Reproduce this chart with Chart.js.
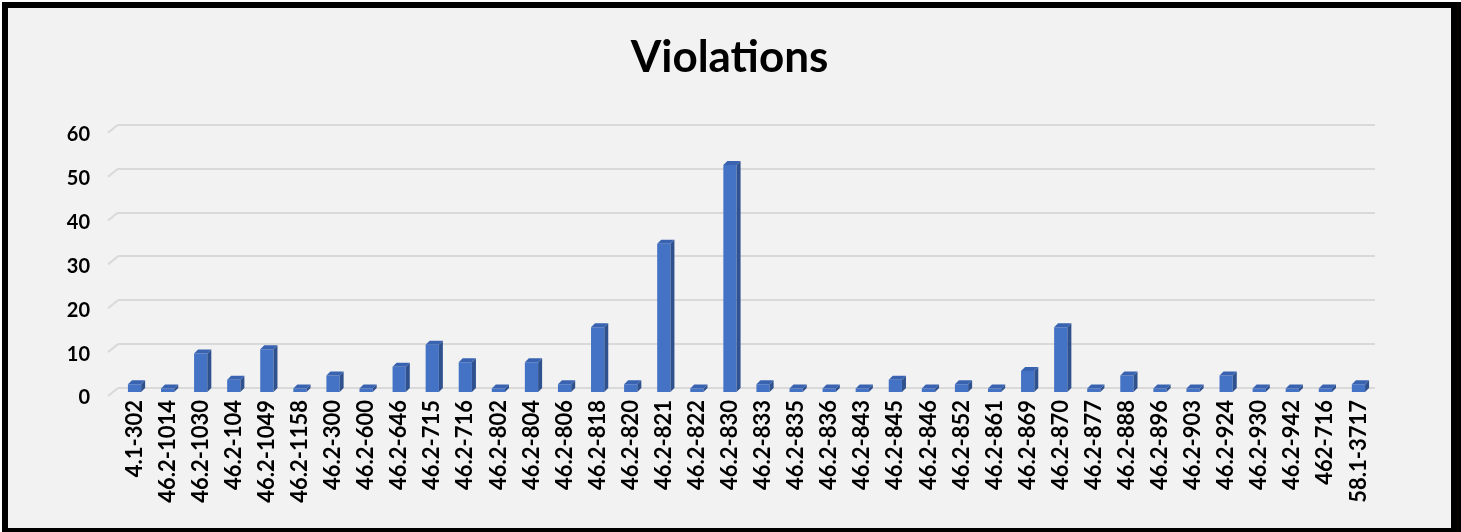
<!DOCTYPE html>
<html>
<head>
<meta charset="utf-8">
<script src="https://cdn.jsdelivr.net/npm/chart.js@4/dist/chart.umd.min.js"></script>
<style>
    body { margin: 0; background: #fff; }
    #box {
        position: absolute; left: 2px; top: 2px;
        width: 1443px; height: 520px;
        border-style: solid; border-color: #000;
        border-width: 6px 10px 4px 6px;
        background: #f2f2f2;
    }
</style>
</head>
<body>
<div id="box"><canvas id="violationsChart" width="1443" height="520"></canvas></div>
<script>
var labels = ['4.1-302', '46.2-1014', '46.2-1030', '46.2-104', '46.2-1049', '46.2-1158', '46.2-300',
    '46.2-600', '46.2-646', '46.2-715', '46.2-716', '46.2-802', '46.2-804', '46.2-806', '46.2-818',
    '46.2-820', '46.2-821', '46.2-822', '46.2-830', '46.2-833', '46.2-835', '46.2-836', '46.2-843',
    '46.2-845', '46.2-846', '46.2-852', '46.2-861', '46.2-869', '46.2-870', '46.2-877', '46.2-888',
    '46.2-896', '46.2-903', '46.2-924', '46.2-930', '46.2-942', '462-716', '58.1-3717'];
var violations = [2, 1, 9, 3, 10, 1, 4, 1, 6, 11, 7, 1, 7, 2, 15, 2, 34, 1, 52, 2, 1, 1, 1,
    3, 1, 2, 1, 5, 15, 1, 4, 1, 1, 4, 1, 1, 1, 2];
var yTicks = [0, 10, 20, 30, 40, 50, 60];

Chart.defaults.font.family = 'Lato';
Chart.defaults.color = '#000';

// fake 3d look: shift the bars forward, add side/top faces and wall edges
var bar3d = {
    id: 'bar3d',
    beforeDatasetsDraw: function (chart) {
        var ctx = chart.ctx;
        var area = chart.chartArea;
        ctx.save();
        ctx.strokeStyle = '#d9d9d9';
        ctx.lineWidth = 2;
        yTicks.forEach(function (v) {
            var y = chart.scales.y.getPixelForValue(v);
            ctx.beginPath();
            ctx.moveTo(area.left - 10, y + 8);
            ctx.lineTo(area.left, y);
            ctx.stroke();
        });
        ctx.restore();
        ctx.save();
        ctx.translate(0, 5);
    },
    afterDatasetsDraw: function (chart) {
        var ctx = chart.ctx;
        var d = 4;
        chart.getDatasetMeta(0).data.forEach(function (bar) {
            var p = bar.getProps(['x', 'y', 'base', 'width'], true);
            var l = p.x - p.width / 2, r = p.x + p.width / 2;
            ctx.fillStyle = '#2f528f';
            ctx.beginPath();
            ctx.moveTo(r, p.y);
            ctx.lineTo(r + d, p.y - d);
            ctx.lineTo(r + d, p.base - d);
            ctx.lineTo(r, p.base);
            ctx.closePath();
            ctx.fill();
            ctx.fillStyle = '#3963b0';
            ctx.beginPath();
            ctx.moveTo(l, p.y);
            ctx.lineTo(l + d, p.y - d);
            ctx.lineTo(r + d, p.y - d);
            ctx.lineTo(r, p.y);
            ctx.closePath();
            ctx.fill();
        });
        ctx.restore();
    }
};

new Chart(document.getElementById('violationsChart'), {
    type: 'bar',
    data: {
        labels: labels,
        datasets: [{
            label: 'Violations',
            data: violations,
            backgroundColor: '#4472c4',
            borderWidth: 0,
            categoryPercentage: 1,
            barPercentage: 0.4
        }]
    },
    options: {
        responsive: false,
        animation: false,
        layout: {
            padding: { left: 0, right: 0, top: 23, bottom: 0 }
        },
        plugins: {
            legend: { display: false },
            tooltip: { enabled: false },
            title: {
                display: true,
                text: 'Violations',
                font: { family: 'Lato', size: 44, weight: 'bold' },
                padding: { top: 0, bottom: 41 }
            }
        },
        scales: {
            x: {
                grid: { display: false, drawTicks: false },
                border: { display: false },
                afterFit: function (scale) { scale.height = 140; },
                ticks: {
                    font: { family: 'Lato', size: 22, weight: 'bold' },
                    minRotation: 90,
                    maxRotation: 90,
                    padding: 12,
                    autoSkip: false
                }
            },
            y: {
                min: 0,
                max: 60,
                grid: { color: '#d9d9d9', lineWidth: 2, drawTicks: false },
                border: { display: false },
                afterFit: function (scale) { scale.width = 110; },
                ticks: {
                    stepSize: 10,
                    font: { family: 'Lato', size: 20, weight: 'bold' },
                    padding: 28,
                    labelOffset: 10
                }
            },
            // empty right-hand gutter so the title stays centred on the whole box
            gutter: {
                type: 'linear',
                position: 'right',
                grid: { display: false },
                border: { display: false },
                ticks: { display: false },
                afterFit: function (scale) { scale.width = 76; }
            }
        }
    },
    plugins: [bar3d]
});
</script>
</body>
</html>
